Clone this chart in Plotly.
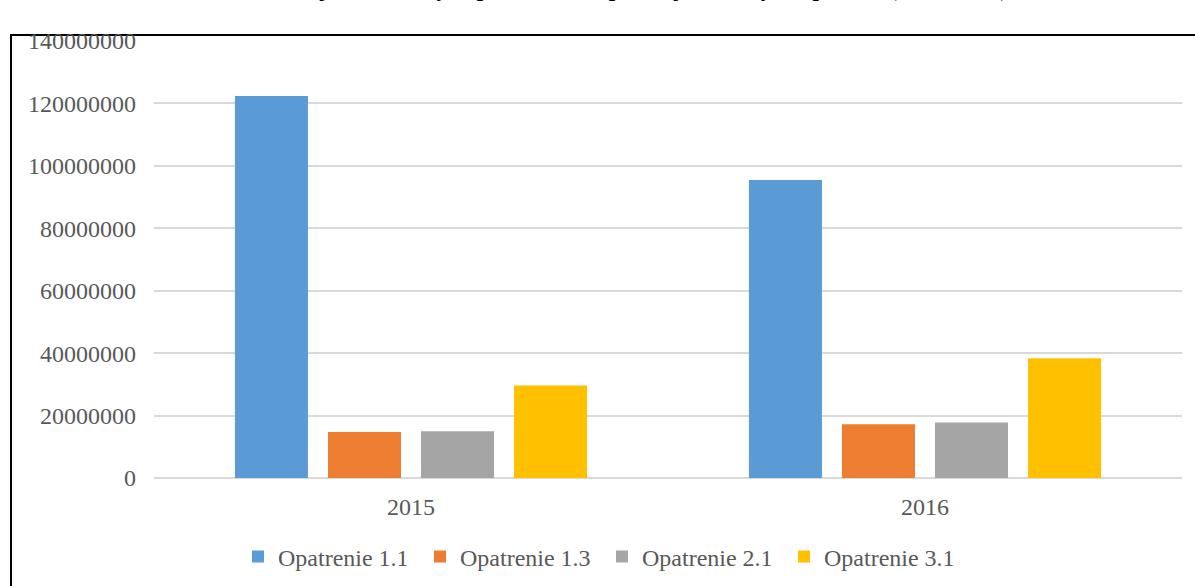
import plotly.graph_objects as go

# data
years = ["2015", "2016"]
series_names = ["Opatrenie 1.1", "Opatrenie 1.3", "Opatrenie 2.1", "Opatrenie 3.1"]
opatrenie_11 = [122400000, 95500000]
opatrenie_13 = [14700000, 17200000]
opatrenie_21 = [15000000, 17800000]
opatrenie_31 = [29600000, 38400000]
colors = ["#5B9BD5", "#ED7D31", "#A5A5A5", "#FFC000"]

y_ticks = [0, 20000000, 40000000, 60000000, 80000000, 100000000, 120000000, 140000000]

W, H = 1195, 586
# plot area in pixels
left, right, top, bottom = 154, 1182, 41, 478
serif = "Liberation Serif, Times New Roman, serif"

fig = go.Figure()
for name, vals, col in zip(series_names, [opatrenie_11, opatrenie_13, opatrenie_21, opatrenie_31], colors):
    fig.add_trace(go.Bar(x=years, y=vals, name=name, marker_color=col,
                         marker_line_width=0))

def px_x(p):
    return (p - left) / (right - left)

def px_y(p):
    return (bottom - p) / (bottom - top)

fig.update_layout(
    width=W, height=H,
    margin=dict(l=left, r=W - right, t=top, b=H - bottom, autoexpand=False),
    paper_bgcolor="white", plot_bgcolor="white",
    font=dict(family=serif, size=24, color="#595959"),
    barmode="group", bargap=0.276, bargroupgap=0.215,
    showlegend=True,
    legend=dict(orientation="h", x=px_x(238), xanchor="left", y=px_y(557), yanchor="middle",
                font=dict(size=24, color="#595959"), itemwidth=30,
                traceorder="normal", entrywidth=137),
    xaxis=dict(range=[-0.5, 1.5], showgrid=False, ticks="", showline=False,
               ticklabelstandoff=12, tickfont=dict(size=24, color="#595959")),
    yaxis=dict(range=[0, 140000000], tickvals=y_ticks,
               ticktext=[str(v) for v in y_ticks],
               showgrid=True, gridcolor="#D9D9D9", gridwidth=2,
               zeroline=True, zerolinecolor="#D9D9D9", zerolinewidth=2,
               showline=False, ticks="", ticklabelstandoff=17,
               tickfont=dict(size=24, color="#595959")),
)

# outer chart border (left and top edges visible)
fig.add_shape(type="rect", xref="paper", yref="paper",
              x0=px_x(11), x1=px_x(1210), y0=px_y(600), y1=px_y(35),
              line=dict(color="black", width=2), fillcolor="rgba(0,0,0,0)", layer="below")

# title, mostly cut off above the top edge of the image as in the source
fig.add_annotation(text="<b>Objem finančných prostriedkov podľa jednotlivých opatrení (2015, 2016)</b>",
                   xref="paper", yref="paper", x=px_x(1010), xanchor="right",
                   y=px_y(-11), yanchor="middle", showarrow=False,
                   font=dict(family=serif, size=23, color="black"))

# drop the default page margin so the chart sits at the window corner
fig.write_html("out.html", config={"displayModeBar": False},
               post_script="document.body.style.margin='0';")
